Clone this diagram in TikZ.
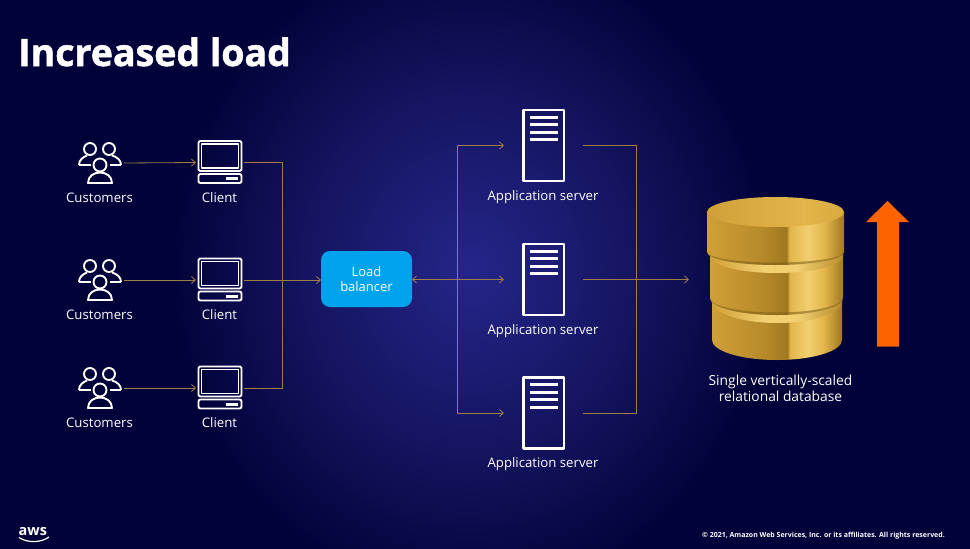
\documentclass[tikz,border=0pt]{standalone}
\usepackage{fontspec}
\setmainfont{Open Sans}
\newfontfamily\titlefont[UprightFont={Open Sans Bold},UprightFeatures={FakeBold=1.4}]{Open Sans}
\usetikzlibrary{arrows.meta}
\definecolor{bgdark}{HTML}{02023A}
\definecolor{bgmid}{HTML}{14145F}
\definecolor{bgglow}{HTML}{25258A}
\definecolor{wire}{HTML}{A07C45}
\definecolor{lbblue}{HTML}{00A3EC}
\definecolor{rise}{HTML}{FF6200}
\definecolor{gold1}{HTML}{A07820}
\definecolor{gold2}{HTML}{CFA038}
\definecolor{gold3}{HTML}{B98C2A}
\definecolor{gold4}{HTML}{F2CF70}
\definecolor{gold5}{HTML}{E2B54A}
\definecolor{gold6}{HTML}{D9AA3E}
\definecolor{goldshadow}{HTML}{7A5C18}
\pgfdeclareradialshading{slideglow}{\pgfpoint{0bp}{0bp}}{
  color(0bp)=(bgglow); color(14bp)=(bgmid); color(25bp)=(bgdark); color(50bp)=(bgdark)}
\pgfdeclarehorizontalshading{goldside}{100bp}{
  color(0bp)=(gold2); color(25bp)=(gold2); color(45bp)=(gold3!90!gold1); color(54bp)=(gold1);
  color(55bp)=(gold5); color(62bp)=(gold4); color(68bp)=(gold5); color(75bp)=(gold1); color(100bp)=(gold1)}
\pgfdeclarehorizontalshading{goldtop}{100bp}{
  color(0bp)=(gold2); color(25bp)=(gold2); color(60bp)=(gold5); color(75bp)=(gold6); color(100bp)=(gold6)}
\pgfdeclarehorizontalshading{goldrim}{100bp}{
  color(0bp)=(gold2); color(25bp)=(gold2); color(45bp)=(gold4); color(58bp)=(gold4); color(75bp)=(gold3); color(100bp)=(gold3)}
\tikzset{
  x=1pt,y=-1pt,
  icon/.style={draw=white,line width=1.9pt,fill=none,line join=round},
  iconbox/.style={inner sep=0pt,outer sep=0pt},
  caption/.style={text=white,font=\fontsize{13.2}{16}\selectfont,inner sep=0pt,align=center},
  wireline/.style={draw=wire,line width=0.8pt},
  wirearrow/.style={wireline,-{Straight Barb[length=4pt,width=7pt,line width=0.8pt]}},
  wiretwo/.style={wireline,{Straight Barb[length=4pt,width=7pt,line width=0.8pt]}-{Straight Barb[length=4pt,width=7pt,line width=0.8pt]}},
  customers/.pic={
    \draw[icon] (-10,-14) circle[radius=6];
    \draw[icon] (9,-14) circle[radius=6];
    \draw[icon] (-21,2) .. controls (-21,-3) and (-17,-6) .. (-13,-7.5);
    \draw[icon] (-21,2) -- (-9,2);
    \draw[icon] (21,2) .. controls (21,-3) and (17,-6) .. (12,-7.5);
    \draw[icon] (21,2) -- (10,2);
    \draw[icon] (0,2) circle[radius=6.5];
    \draw[icon] (-12,20) .. controls (-12,13) and (-6,9.5) .. (0,9.5) .. controls (6,9.5) and (12,13) .. (12,20) -- cycle;
  },
  clientpic/.pic={
    \draw[icon,rounded corners=1.5pt] (-21.5,-21.5) rectangle (21.5,8.5);
    \draw[icon,line width=1.4pt] (-18.5,-18.5) rectangle (18.5,5.5);
    \draw[icon,rounded corners=2pt] (-21.5,11.5) rectangle (21.5,20.5);
    \fill[white] (6,14.5) rectangle (18,17.5);
  },
  serverpic/.pic={
    \draw[icon,line width=2.6pt] (-20.3,-35.5) rectangle (20.3,35.5);
    \foreach \yy in {-28.5,-21,-13.5,-6}
      \fill[white] (-14,\yy-1.5) rectangle (14,\yy+1.5);
  },
}
% left, right, top edge y, bottom edge y, ry, shading
\newcommand{\diskpart}[6]{%
  \path[shading=#6] (#1,#3) -- (#1,#4)
     arc[start angle=180,end angle=360,x radius={(#2-#1)/2*1pt},y radius=#5pt]
     -- (#2,#3) -- cycle;}
% left, right, bottom edge y, ry : thin shadow under a disk
\newcommand{\diskshadow}[4]{%
  \fill[goldshadow,opacity=0.55] (#1,#3)
     arc[start angle=180,end angle=360,x radius={(#2-#1)/2*1pt},y radius=#4pt]
     arc[start angle=360,end angle=180,x radius={(#2-#1)/2*1pt},y radius={(#4-2.5)*1pt}] -- cycle;}
\begin{document}
\begin{tikzpicture}
\useasboundingbox (0,0) rectangle (970,549);
\begin{scope}
  \clip (0,0) rectangle (970,549);
  \fill[bgdark] (0,0) rectangle (970,549);
  \path[shading=slideglow] (470,270) ellipse[x radius=300pt,y radius=330pt];
\end{scope}

\node[text=white,anchor=base west,inner sep=0pt,font=\titlefont\fontsize{37.5}{44}\selectfont] (title) at (18,66) {Increased load};

% customers
\node[iconbox,minimum width=48pt,minimum height=44pt] (cust1) at (100,163) {};
\node[iconbox,minimum width=48pt,minimum height=44pt] (cust2) at (100,280) {};
\node[iconbox,minimum width=48pt,minimum height=44pt] (cust3) at (100,388) {};
\pic at (cust1) {customers};
\pic at (cust2) {customers};
\pic at (cust3) {customers};
\node[caption] (custlabel1) at (99.5,198) {Customers};
\node[caption] (custlabel2) at (99.5,315) {Customers};
\node[caption] (custlabel3) at (99.5,423) {Customers};

% clients
\node[iconbox,minimum width=48pt,minimum height=44pt] (client1) at (220,162.5) {};
\node[iconbox,minimum width=48pt,minimum height=44pt] (client2) at (220,280) {};
\node[iconbox,minimum width=48pt,minimum height=44pt] (client3) at (220,388) {};
\pic at (client1) {clientpic};
\pic at (client2) {clientpic};
\pic at (client3) {clientpic};
\node[caption] (clientlabel1) at (219.5,198) {Client};
\node[caption] (clientlabel2) at (219.5,315) {Client};
\node[caption] (clientlabel3) at (219.5,423) {Client};

% load balancer
\node[fill=lbblue,rounded corners=9pt,minimum width=91pt,minimum height=56pt,inner sep=0pt,outer sep=0pt,
      text=white,align=center,font=\fontsize{13}{15}\selectfont] (lb) at (366.5,279) {Load\\balancer};

% servers
\node[iconbox,minimum width=79pt,minimum height=72pt] (srv1) at (543.5,145.5) {};
\node[iconbox,minimum width=79pt,minimum height=72pt] (srv2) at (543.5,279.5) {};
\node[iconbox,minimum width=79pt,minimum height=72pt] (srv3) at (543.5,413) {};
\pic at (srv1) {serverpic};
\pic at (srv2) {serverpic};
\pic at (srv3) {serverpic};
\node[caption] (srvlabel1) at (543,197) {Application server};
\node[caption] (srvlabel2) at (543,331) {Application server};
\node[caption] (srvlabel3) at (543,464) {Application server};

% database
\node[iconbox,minimum width=172pt,minimum height=166pt] (db) at (775,279.5) {};
\diskpart{712}{842}{296}{340}{20}{goldside}
\diskpart{712}{842}{296}{301}{22}{goldrim}
\diskpart{710}{843}{252}{298}{17}{goldside}
\diskshadow{710}{843}{298}{17}
\diskpart{710}{843}{252}{256}{17}{goldrim}
\diskpart{707}{844}{212}{252}{13}{goldside}
\diskshadow{707}{844}{252}{13}
\path[shading=goldtop] (775.5,212) ellipse[x radius=68.5pt,y radius=15pt];
\node[caption,font=\fontsize{13.8}{16}\selectfont] (dblabel) at (780.5,388.5) {Single vertically-scaled\\relational database};

% orange arrow
\fill[rise] (887.5,201) -- (909,222) -- (899,222) -- (899,346.5) -- (877,346.5) -- (877,222) -- (866,222) -- cycle;

% connectors
\coordinate (trunkL) at (282,280);
\coordinate (trunkM) at (457,279.5);
\coordinate (trunkR) at (636,279.5);
\draw[wirearrow] (cust1.east) -- (client1.west);
\draw[wirearrow] (cust2.east) -- (client2.west);
\draw[wirearrow] (cust3.east) -- (client3.west);
\draw[wireline] (client1.east) -| (trunkL);
\draw[wireline] (client3.east) -| (trunkL);
\draw[wirearrow] (client2.east) -- (lb.west |- client2.east);
\draw[wiretwo] (lb.east |- srv2.west) -- (srv2.west);
\draw[wirearrow] (trunkM) |- (srv1.west);
\draw[wirearrow] (trunkM) |- (srv3.west);
\draw[wireline] (srv1.east) -| (trunkR);
\draw[wireline] (srv3.east) -| (trunkR);
\draw[wirearrow] (srv2.east) -- (db.west);

% footer
\node[text=white,anchor=base west,inner sep=0pt,font=\bfseries\fontsize{14.5}{16}\selectfont] (awslogo) at (18.5,535) {aws};
\coordinate (smileA) at (19,537.5);
\coordinate (smileB) at (49,537);
\draw[white,line width=1.2pt] (smileA) .. controls (27,543) and (41,543) .. (smileB);
\node[text=white,anchor=base east,inner sep=0pt,font=\fontsize{7}{8}\selectfont\bfseries] (copyright) at (945,537) {© 2021, Amazon Web Services, Inc. or its affiliates. All rights reserved.};
\end{tikzpicture}
\end{document}
